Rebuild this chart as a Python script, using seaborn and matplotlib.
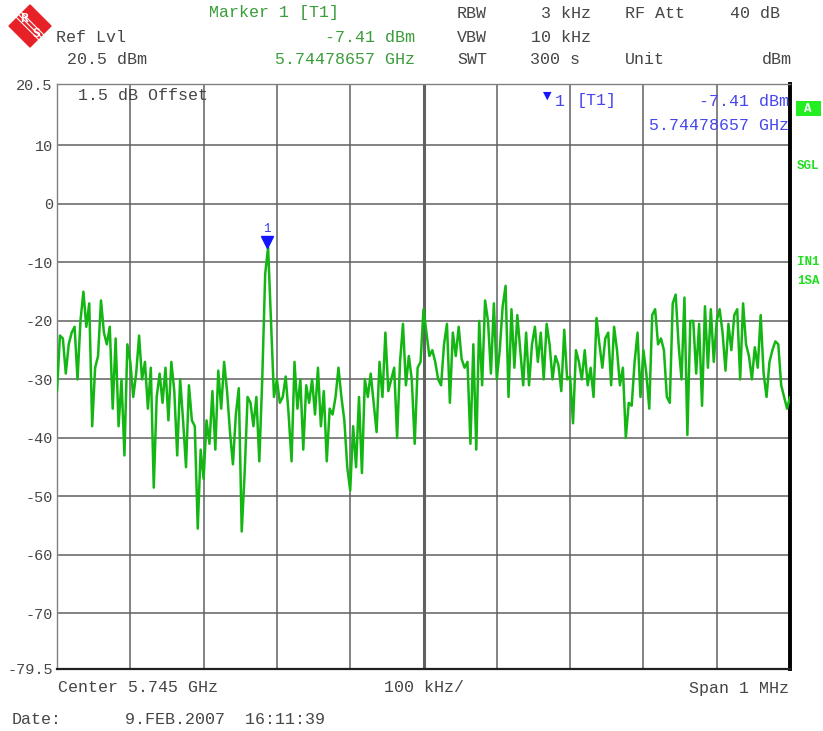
import numpy as np
import pandas as pd
import matplotlib
matplotlib.use("Agg")
import matplotlib.pyplot as plt
import matplotlib.transforms as mtransforms
from matplotlib.patches import Polygon, Rectangle
import seaborn as sns

# ---------------- data ----------------
center_mhz = 5745.0
span_mhz = 1.0
level_dbm = [
    # div 1
    -32, -22.5, -23, -29, -24, -22, -21, -30, -20, -15, -21, -17, -38, -28, -26, -16.5, -22, -24, -21, -35, -23, -38, -30, -43, -24,
    # div 2
    -27, -33, -29, -22.5, -30, -27, -35, -28, -48.5, -33, -29, -34, -28, -37, -27, -32, -43, -30, -37, -45, -31, -37, -38, -55.5, -42,
    # div 3
    -47, -37, -41, -32, -42, -28.5, -35, -27, -32, -39, -44.5, -36, -31.5, -56, -46, -33, -34, -38, -33, -44, -30, -12, -7.41, -20, -33,
    # div 4
    -30, -34, -33, -29.5, -36, -44, -27, -35, -30, -42, -31, -34, -30, -36, -28, -38, -32, -44, -35, -36, -33, -28, -33, -37, -45,
    # div 5
    -49, -38, -45, -33, -46, -30, -33, -29, -34, -39, -27, -33, -22, -32, -30, -28, -40, -27, -20.5, -31, -26, -30, -41, -28, -27,
    # div 6
    -18, -22, -26, -25, -27, -30, -31, -24, -20.5, -34, -22, -26, -21, -26.5, -28, -27, -41, -24, -42, -20, -31, -16.5, -20, -29, -17,
    # div 7
    -30, -25, -17.5, -14, -33, -18, -28, -19, -25, -31, -22, -31, -24, -21, -27, -22, -30, -20.5, -24, -30, -26, -27.5, -32, -21.5, -30,
    # div 8
    -29.5, -37.5, -25, -27, -30, -25, -31, -28, -33, -19.5, -24, -28, -23, -22, -31, -21, -25, -31, -28, -40, -34, -34.5, -27, -22, -33,
    # div 9
    -25, -29, -35, -19, -18, -24, -23, -25, -33, -34, -17, -15.5, -24, -30, -16, -39.5, -20, -20, -29, -20.5, -34.5, -17.5, -28, -18, -27,
    # div 10
    -20, -18, -22, -28.5, -20.5, -25, -19, -18, -30, -17, -24, -26, -30, -24.5, -28, -19, -29, -33, -27, -25, -23.5, -24, -31, -33, -35, -33,
]
marker_freq_mhz = 5744.78657
marker_level = -7.41
ref_level = 20.5
bottom_level = -79.5
ytick_values = [20.5, 10, 0, -10, -20, -30, -40, -50, -60, -70, -79.5]
ytick_labels = ["20.5", "10", "0", "-10", "-20", "-30", "-40", "-50", "-60", "-70", "-79.5"]

# sweep grid (analyzer frequency points)
freqs = np.linspace(center_mhz - span_mhz / 2, center_mhz + span_mhz / 2, len(level_dbm))
df = pd.DataFrame({"freq": freqs, "level": level_dbm})

# ---------------- style ----------------
sns.set_style("white")
MONO = ["Liberation Mono", "DejaVu Sans Mono"]
plt.rcParams["font.family"] = MONO

W, H = 823, 731
fig = plt.figure(figsize=(W / 100, H / 100), dpi=100)
fig.patch.set_facecolor("white")

L, R, T, B = 57, 790, 84, 669
ax = fig.add_axes([L / W, (H - B) / H, (R - L) / W, (B - T) / H])
ax.set_facecolor("white")

sns.lineplot(data=df, x="freq", y="level", ax=ax, color="#14b614", lw=1.8,
             estimator=None, sort=False, zorder=3)

ax.set_xlim(freqs[0], freqs[-1])
ax.set_ylim(bottom_level, ref_level)
ax.set_xlabel("")
ax.set_ylabel("")

xt = np.linspace(freqs[0], freqs[-1], 11)
ax.set_xticks(xt)
ax.set_xticklabels([])
ax.set_yticks(ytick_values)
ax.set_yticklabels(ytick_labels)
ax.tick_params(axis="both", length=0)
ax.tick_params(axis="y", pad=3, labelsize=11, labelcolor="#454545")
ax.grid(True, color="#606060", lw=1.1, zorder=1)
ax.axvline(center_mhz, color="#606060", lw=2.2, zorder=1)

for s in ["left", "top"]:
    ax.spines[s].set_color("#808080")
    ax.spines[s].set_linewidth(1.0)
ax.spines["bottom"].set_color("#202020")
ax.spines["bottom"].set_linewidth(1.6)
ax.spines["right"].set_color("black")
ax.spines["right"].set_linewidth(2.8)

# marker triangle + label
tri_tr = mtransforms.offset_copy(ax.transData, fig=fig, x=0, y=5, units="dots")
ax.plot([marker_freq_mhz], [marker_level], marker="v", color="#1414ff",
        markersize=8, transform=tri_tr, zorder=5, clip_on=False)
ax.annotate("1", xy=(marker_freq_mhz, marker_level), xytext=(0, 18),
            textcoords="offset pixels", ha="center", va="center",
            color="#3c3cf0", fontsize=9)

# ---------------- overlay texts in pixel coordinates ----------------
ov = fig.add_axes([0, 0, 1, 1], facecolor="none")
ov.set_xlim(0, W)
ov.set_ylim(H, 0)
ov.axis("off")

GRAY = "#454545"
GREEN = "#3a9c3a"
BLUE = "#4646ee"
LIME = "#22dd22"
FS = 12


def t(x, y, s, ha="left", color=GRAY, fs=FS, **kw):
    ov.text(x, y, s, ha=ha, va="center", color=color, fontsize=fs, **kw)


# logo
ov.add_patch(Polygon([(30, 5), (51, 26), (30, 47), (9, 26)], closed=True,
                     facecolor="#e62228", edgecolor="#e62228", zorder=2))
for d in (-2.5, 0, 2.5):
    ov.plot([19 + d, 41 + d], [15 - d, 37 - d], color="white", lw=0.8, zorder=3)
t(24, 19, "R", color="white", fs=9, ha="center", fontweight="bold")
t(37, 34, "S", color="white", fs=9, ha="center", fontweight="bold")

# header
t(209, 13, "Marker 1 [T1]", color=GREEN)
t(56, 37, "Ref Lvl")
t(415, 37, "-7.41 dBm", ha="right", color=GREEN)
t(67, 60, "20.5 dBm")
t(415, 60, "5.74478657 GHz", ha="right", color=GREEN)
t(457, 13, "RBW")
t(591, 13, "3 kHz", ha="right")
t(625, 13, "RF Att")
t(780, 13, "40 dB", ha="right")
t(457, 37, "VBW")
t(591, 37, "10 kHz", ha="right")
t(457, 60, "SWT")
t(530, 60, "300 s")
t(625, 60, "Unit")
t(792, 60, "dBm", ha="right")

# inside plot
t(78, 96, "1.5 dB Offset")
ov.text(547, 96, "\u25bc", ha="center", va="center", color="#1414ff", fontsize=8,
        family=["DejaVu Sans"])
t(555, 101, "1", color=BLUE)
t(577, 101, "[T1]", color=BLUE)
t(789, 101, "-7.41 dBm", ha="right", color=BLUE)
t(789, 125, "5.74478657 GHz", ha="right", color=BLUE)

# right side annotations
ov.add_patch(Rectangle((796, 101), 25, 15, facecolor="#22ee22", edgecolor="none"))
t(808, 109, "A", ha="center", color="white", fs=9, fontweight="bold")
t(797, 166, "SGL", color=LIME, fs=9, fontweight="bold")
t(797, 262, "IN1", color=LIME, fs=9, fontweight="bold")
t(797, 281, "1SA", color=LIME, fs=9, fontweight="bold")

# bottom
t(58, 688, "Center 5.745 GHz")
t(384, 688, "100 kHz/")
t(789, 688, "Span 1 MHz", ha="right")
t(12, 719, "Date:")
t(125, 719, "9.FEB.2007  16:11:39")

fig.savefig("out.png", dpi=100, facecolor="white")
